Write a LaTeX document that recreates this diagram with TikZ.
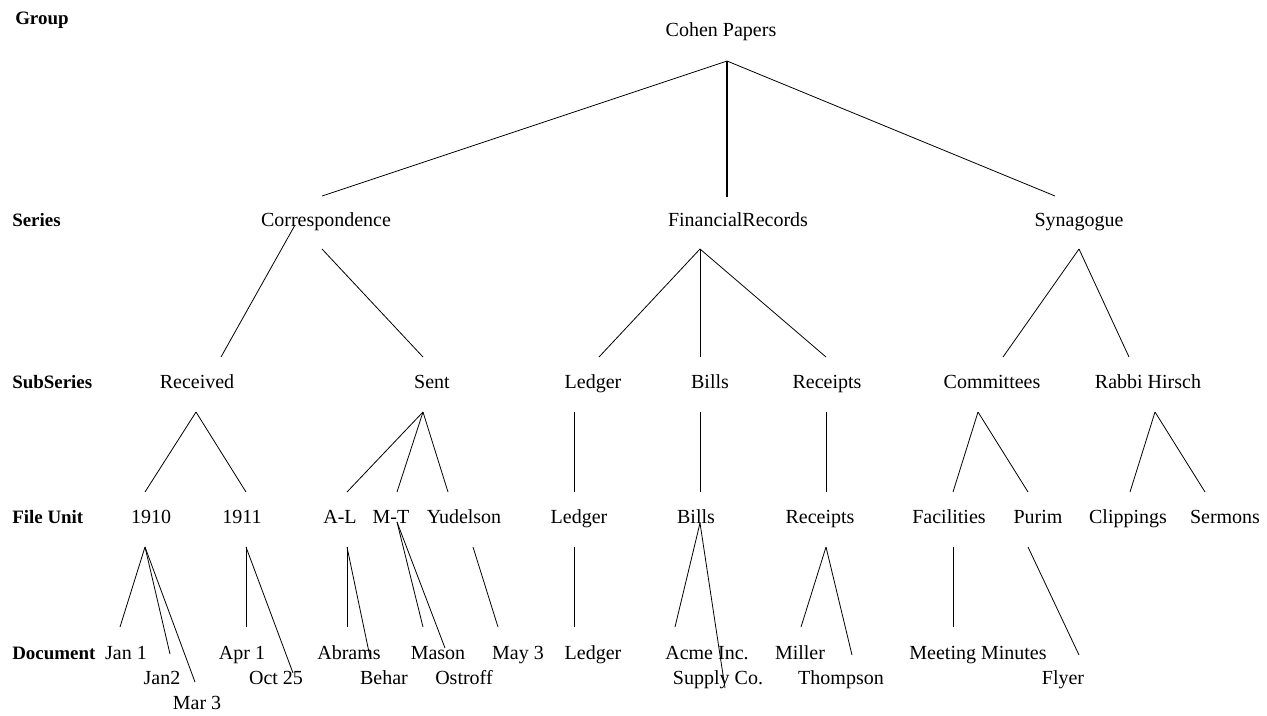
\documentclass[tikz,border=0pt]{standalone}
\usepackage{fontspec}
\setmainfont{Liberation Serif}
\usepackage{tikz}

\begin{document}
\begin{tikzpicture}[x=0.75pt,y=-0.75pt]
  \tikzset{item/.style={inner sep=0pt,anchor=base,font=\fontsize{15}{18}\selectfont}}
  \tikzset{level/.style={item,anchor=base west,font=\fontsize{14.2}{17}\selectfont\bfseries}}
  \tikzset{branch/.style={line width=0.6pt}}
  \tikzset{trunk/.style={line width=2.2pt}}
  \useasboundingbox (0,0) rectangle (1267,715);

  % level names
  \node[level] (lgroup) at (15,24) {Group};
  \node[level] (lseries) at (12,226) {Series};
  \node[level] (lsub) at (12,388) {SubSeries};
  \node[level] (lfile) at (12,523) {File Unit};
  \node[level] (ldoc) at (12,659) {Document};

  % group and series
  \node[item] (cohen) at (721,36) {Cohen Papers};
  \node[item] (corr) at (326,226) {Correspondence};
  \node[item] (fin) at (738,226) {FinancialRecords};
  \node[item] (syn) at (1079,226) {Synagogue};

  % subseries
  \node[item] (received) at (197,388) {Received};
  \node[item] (sent) at (432,388) {Sent};
  \node[item] (ledger) at (593,388) {Ledger};
  \node[item] (bills) at (710,388) {Bills};
  \node[item] (receipts) at (827,388) {Receipts};
  \node[item] (committees) at (992,388) {Committees};
  \node[item] (hirsch) at (1148,388) {Rabbi Hirsch};

  % file units
  \node[item] (y1910) at (151,523) {1910};
  \node[item] (y1911) at (242,523) {1911};
  \node[item] (al) at (340,523) {A-L};
  \node[item] (mt) at (391,523) {M-T};
  \node[item] (yudelson) at (464,523) {Yudelson};
  \node[item] (fledger) at (579,523) {Ledger};
  \node[item] (fbills) at (696,523) {Bills};
  \node[item] (freceipts) at (820,523) {Receipts};
  \node[item] (facilities) at (949,523) {Facilities};
  \node[item] (purim) at (1038,523) {Purim};
  \node[item] (clippings) at (1128,523) {Clippings};
  \node[item] (sermons) at (1225,523) {Sermons};

  % documents
  \node[item] (jan1) at (126,659) {Jan 1};
  \node[item] (jan2) at (162,684) {Jan2};
  \node[item] (mar3) at (197,709) {Mar 3};
  \node[item] (apr1) at (242,659) {Apr 1};
  \node[item] (oct25) at (276,684) {Oct 25};
  \node[item] (abrams) at (349,659) {Abrams};
  \node[item] (behar) at (384,684) {Behar};
  \node[item] (mason) at (438,659) {Mason};
  \node[item] (ostroff) at (464,684) {Ostroff};
  \node[item] (may3) at (518,659) {May 3};
  \node[item] (dledger) at (593,659) {Ledger};
  \node[item] (acme) at (707,659) {Acme Inc.};
  \node[item] (supply) at (718,684) {Supply Co.};
  \node[item] (miller) at (800,659) {Miller};
  \node[item] (thompson) at (841,684) {Thompson};
  \node[item] (minutes) at (978,659) {Meeting Minutes};
  \node[item] (flyer) at (1063,684) {Flyer};

  % branch points
  \coordinate (cohen-j) at (727,61);
  \coordinate (corr-j1) at (295,225);
  \coordinate (corr-j2) at (322,249);
  \coordinate (fin-j) at (700,249);
  \coordinate (syn-j) at (1079,249);
  \coordinate (received-j) at (196,412);
  \coordinate (sent-j) at (423,412);
  \coordinate (ledger-j) at (574,412);
  \coordinate (bills-j) at (700,412);
  \coordinate (receipts-j) at (826,412);
  \coordinate (committees-j) at (978,412);
  \coordinate (hirsch-j) at (1155,412);
  \coordinate (y1910-j) at (145,547);
  \coordinate (y1911-j) at (246,547);
  \coordinate (al-j) at (347,547);
  \coordinate (mt-j) at (397,522);
  \coordinate (yudelson-j) at (473,547);
  \coordinate (fledger-j) at (574,547);
  \coordinate (fbills-j) at (700,523);
  \coordinate (freceipts-j) at (826,547);
  \coordinate (facilities-j) at (953,547);
  \coordinate (purim-j) at (1028,547);

  % line ends
  \coordinate (corr-e) at (322,196);
  \coordinate (fin-e) at (727,197);
  \coordinate (syn-e) at (1055,196);
  \coordinate (received-e) at (221,357);
  \coordinate (sent-e) at (423,357);
  \coordinate (ledger-e) at (599,357);
  \coordinate (bills-e) at (700,357);
  \coordinate (receipts-e) at (826,357);
  \coordinate (committees-e) at (1003,357);
  \coordinate (hirsch-e) at (1129,357);
  \coordinate (y1910-e) at (145,492);
  \coordinate (y1911-e) at (246,492);
  \coordinate (al-e) at (347,492);
  \coordinate (mt-e) at (397,492);
  \coordinate (yudelson-e) at (448,492);
  \coordinate (fledger-e) at (574,492);
  \coordinate (fbills-e) at (700,492);
  \coordinate (freceipts-e) at (826,492);
  \coordinate (facilities-e) at (953,492);
  \coordinate (purim-e) at (1028,492);
  \coordinate (clippings-e) at (1130,492);
  \coordinate (sermons-e) at (1205,492);
  \coordinate (jan1-e) at (120,627);
  \coordinate (jan2-e) at (170,654);
  \coordinate (mar3-e) at (195,682);
  \coordinate (apr1-e) at (246,627);
  \coordinate (oct25-e) at (293,673);
  \coordinate (abrams-e) at (347,627);
  \coordinate (behar-e) at (370,657);
  \coordinate (mason-e) at (423,627);
  \coordinate (ostroff-e) at (445,648);
  \coordinate (may3-e) at (498,627);
  \coordinate (dledger-e) at (574,627);
  \coordinate (acme-e) at (675,627);
  \coordinate (supply-e) at (725,688);
  \coordinate (miller-e) at (801,627);
  \coordinate (thompson-e) at (852,655);
  \coordinate (minutes-e) at (953,627);
  \coordinate (flyer-e) at (1079,655);

  \draw[branch] (cohen-j) -- (corr-e);
  \draw[trunk] (cohen-j) -- (fin-e);
  \draw[branch] (cohen-j) -- (syn-e);
  \draw[branch] (corr-j1) -- (received-e);
  \draw[branch] (corr-j2) -- (sent-e);
  \foreach \c in {ledger,bills,receipts} \draw[branch] (fin-j) -- (\c-e);
  \foreach \c in {committees,hirsch} \draw[branch] (syn-j) -- (\c-e);
  \foreach \c in {y1910,y1911} \draw[branch] (received-j) -- (\c-e);
  \foreach \c in {al,mt,yudelson} \draw[branch] (sent-j) -- (\c-e);
  \draw[branch] (ledger-j) -- (fledger-e);
  \draw[branch] (bills-j) -- (fbills-e);
  \draw[branch] (receipts-j) -- (freceipts-e);
  \foreach \c in {facilities,purim} \draw[branch] (committees-j) -- (\c-e);
  \foreach \c in {clippings,sermons} \draw[branch] (hirsch-j) -- (\c-e);
  \foreach \c in {jan1,jan2,mar3} \draw[branch] (y1910-j) -- (\c-e);
  \foreach \c in {apr1,oct25} \draw[branch] (y1911-j) -- (\c-e);
  \foreach \c in {abrams,behar} \draw[branch] (al-j) -- (\c-e);
  \foreach \c in {mason,ostroff} \draw[branch] (mt-j) -- (\c-e);
  \draw[branch] (yudelson-j) -- (may3-e);
  \draw[branch] (fledger-j) -- (dledger-e);
  \foreach \c in {acme,supply} \draw[branch] (fbills-j) -- (\c-e);
  \foreach \c in {miller,thompson} \draw[branch] (freceipts-j) -- (\c-e);
  \draw[branch] (facilities-j) -- (minutes-e);
  \draw[branch] (purim-j) -- (flyer-e);
\end{tikzpicture}
\end{document}
